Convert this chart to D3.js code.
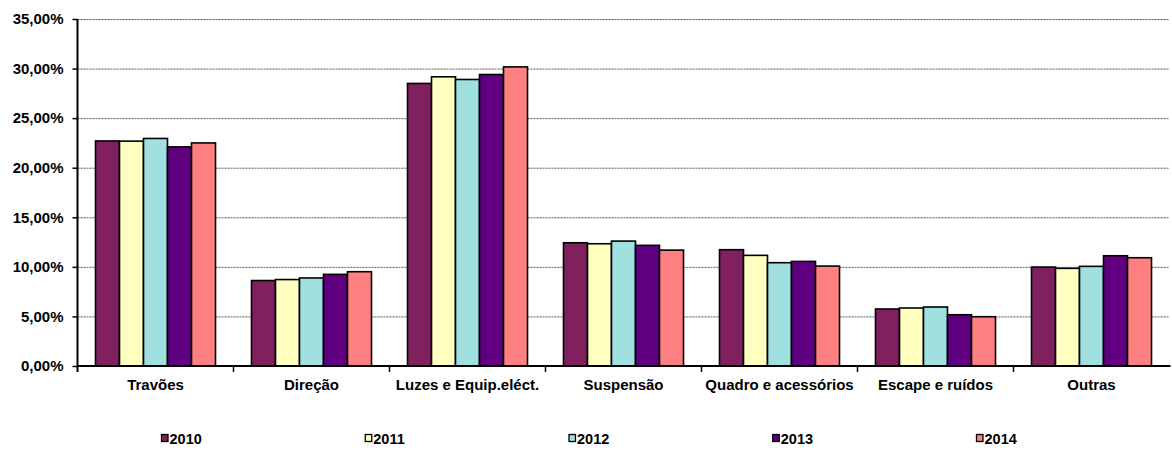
<!DOCTYPE html>
<html><head><meta charset="utf-8">
<script src="https://cdn.jsdelivr.net/npm/d3@7"></script>
<style>
body{margin:0;background:#fff;}
text{font-family:"Liberation Sans",Arial,sans-serif;font-weight:bold;fill:#000;}
</style></head>
<body><svg id="c" width="1172" height="450"></svg>
<script>
const categories = ["Travões","Direção","Luzes e Equip.eléct.","Suspensão","Quadro e acessórios","Escape e ruídos","Outras"];
const years = ["2010","2011","2012","2013","2014"];
const v2010 = [22.70, 8.62, 28.50, 12.43, 11.73, 5.75, 9.98];
const v2011 = [22.68, 8.72, 29.17, 12.33, 11.16, 5.85, 9.85];
const v2012 = [22.95, 8.88, 28.90, 12.60, 10.42, 5.95, 10.05];
const v2013 = [22.10, 9.24, 29.40, 12.17, 10.55, 5.17, 11.12];
const v2014 = [22.50, 9.51, 30.17, 11.69, 10.08, 4.97, 10.92];
const yTicks = [0,5,10,15,20,25,30,35];
const colors = ["#80205F","#FFFFC0","#A0E0E0","#600080","#FF8080"];

const series = [v2010,v2011,v2012,v2013,v2014];
const svg = d3.select("#c");
const L = 77.5, R = 1169.5, T = 19, B = 366;

const x0 = d3.scaleBand().domain(categories).range([L,R]).padding(0);
const x1 = d3.scaleBand().domain(years).range([0,x0.bandwidth()]).paddingInner(0).paddingOuter(0.75);
const y = d3.scaleLinear().domain([0,35]).range([B,T]);
const fmt = v => d3.format(".2f")(v).replace(".",",") + "%";

// gridlines
svg.append("g").selectAll("line").data(yTicks.filter(d=>d>0)).join("line")
  .attr("x1",L).attr("x2",R).attr("y1",d=>y(d)+0.5).attr("y2",d=>y(d)+0.5)
  .attr("stroke","#555").attr("stroke-width",1).attr("stroke-dasharray","2,1");

// bars
const g = svg.append("g");
categories.forEach((c,ci)=>{
  years.forEach((yr,si)=>{
    g.append("rect")
      .attr("x",x0(c)+x1(yr)).attr("y",y(series[si][ci]))
      .attr("width",x1.bandwidth()).attr("height",B-y(series[si][ci]))
      .attr("fill",colors[si]).attr("stroke","#000").attr("stroke-width",1.6);
  });
});

// y axis
const ya = svg.append("g").attr("transform",`translate(${L},0)`)
  .call(d3.axisLeft(y).tickValues(yTicks).tickFormat(fmt).tickSize(5).tickPadding(9));
ya.select(".domain").attr("stroke","#000").attr("stroke-width",2).attr("d",`M0,${T}V${B+6}`);
ya.selectAll(".tick line").attr("stroke","#000").attr("stroke-width",1.5);
ya.selectAll("text").style("font-size","15px").attr("fill","#000").style("font-family","'Liberation Sans',Arial,sans-serif").style("font-weight","bold");

// x axis
const xa = svg.append("g").attr("transform",`translate(0,${B})`)
  .call(d3.axisBottom(x0).tickSize(0).tickPadding(13));
xa.select(".domain").attr("stroke","#000").attr("stroke-width",2).attr("d",`M${L},0H${R+1}`);
xa.selectAll("text").style("font-size","15px").attr("fill","#000").style("font-family","'Liberation Sans',Arial,sans-serif").style("font-weight","bold").attr("dy","0.71em");
svg.append("g").selectAll("line").data(categories.slice(1)).join("line")
  .attr("x1",d=>x0(d)).attr("x2",d=>x0(d)).attr("y1",B).attr("y2",B+6)
  .attr("stroke","#000").attr("stroke-width",1.5);

// legend
const lg = svg.append("g");
const legX = d3.scalePoint().domain(years).range([161,976]);
years.forEach((yr,i)=>{
  const gx = legX(yr);
  lg.append("rect").attr("x",gx+0.5).attr("y",434.5).attr("width",6.5).attr("height",7)
    .attr("fill",colors[i]).attr("stroke","#000").attr("stroke-width",1.3);
  lg.append("text").attr("x",gx+8.5).attr("y",443.5).style("font-size","14.5px").text(yr);
});
</script></body></html>
